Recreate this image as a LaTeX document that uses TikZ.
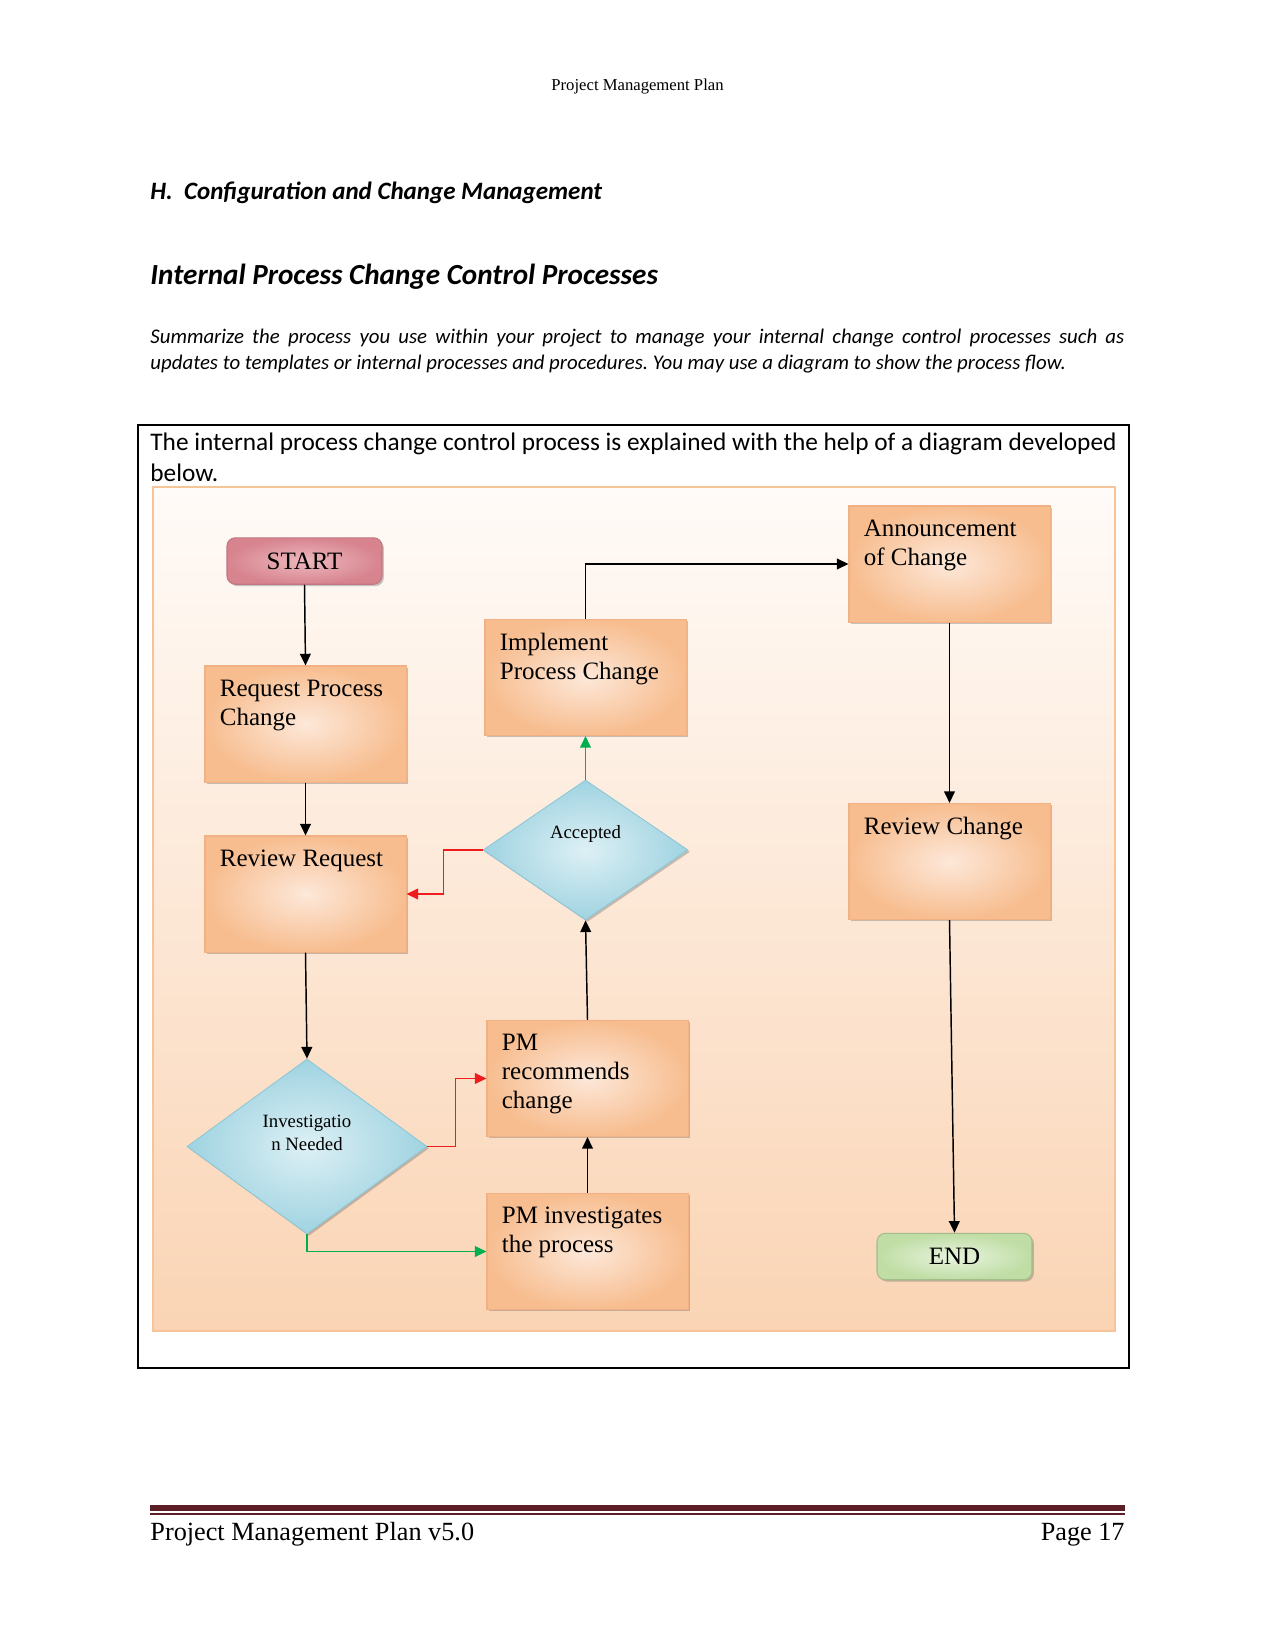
\documentclass[tikz,border=0pt]{standalone}
\usepackage{fontspec}
\setmainfont{Liberation Serif}
\newfontfamily\calib{Carlito}
\usetikzlibrary{arrows.meta,shapes.geometric,shadows,calc}
\definecolor{boxedge}{HTML}{F2B184}
\definecolor{boxdark}{HTML}{F7BD8F}
\definecolor{boxlight}{HTML}{FDE8D9}
\definecolor{frameedge}{HTML}{F7C49A}
\definecolor{frametop}{HTML}{FFFBF8}
\definecolor{framebot}{HTML}{FAD4B4}
\definecolor{diadark}{HTML}{9FD3E1}
\definecolor{dialight}{HTML}{DDF0F5}
\definecolor{diaedge}{HTML}{8CC6D6}
\definecolor{startdark}{HTML}{D7848F}
\definecolor{startlight}{HTML}{EDB8BE}
\definecolor{enddark}{HTML}{BFDDA4}
\definecolor{endlight}{HTML}{E8F3DE}
\definecolor{noarrowred}{HTML}{EE1C1C}
\definecolor{yesgreen}{HTML}{00B050}
\definecolor{maroon}{HTML}{5C1F27}
\tikzset{
  procbox/.style={rectangle, draw=boxedge, line width=0.5pt, inner color=boxlight, outer color=boxdark,
    minimum width=96.5pt, minimum height=55.7pt, inner sep=0pt,
    drop shadow={shadow xshift=0.9pt, shadow yshift=-0.9pt, opacity=0.3, fill=black!70}},
  termbox/.style={rectangle, rounded corners=4pt, line width=0.5pt, minimum width=74.4pt, minimum height=22.3pt,
    inner sep=0pt, font=\fontsize{12}{14}\selectfont,
    drop shadow={shadow xshift=0.9pt, shadow yshift=-0.9pt, opacity=0.3, fill=black!70}},
  decision/.style={diamond, draw=diaedge, line width=0.4pt, inner color=dialight, outer color=diadark, inner sep=0pt,
    drop shadow={shadow xshift=0.9pt, shadow yshift=-0.9pt, opacity=0.3, fill=black!70}},
  boxtext/.style={anchor=north west, inner sep=0pt, align=left, font=\fontsize{12}{13.9}\selectfont},
  dectext/.style={inner sep=0pt, align=center, font=\fontsize{9}{11}\selectfont},
  flow/.style={line width=0.7pt, -{Triangle[length=5.6pt,width=5.2pt]}},
  noflow/.style={flow, draw=noarrowred, -{Triangle[length=5.6pt,width=5.2pt,fill=noarrowred]}},
  yesflow/.style={flow, draw=yesgreen, -{Triangle[length=5.6pt,width=5.2pt,fill=yesgreen]}},
}
\frenchspacing
\begin{document}
\begin{tikzpicture}[x=0.48pt,y=-0.48pt]
\useasboundingbox (0,0) rectangle (1275,1650);
\fill[white] (0,0) rectangle (1275,1650);

% page header and texts
\node[font=\fontsize{8}{9.6}\selectfont] (hdr) at (637.5,87) {Project Management Plan};
\node[anchor=base west, inner sep=0pt, font=\calib\bfseries\itshape\fontsize{12}{14}\selectfont] (secH) at (150,200) {H.\ \ Configuration and Change Management};
\node[anchor=base west, inner sep=0pt, font=\calib\bfseries\itshape\fontsize{14}{17}\selectfont] (secI) at (150,285) {Internal Process Change Control Processes};
\node[anchor=north west, inner sep=0pt, text width=467.5pt, align=justify, font=\calib\itshape\fontsize{10}{12.5}\selectfont] (para) at (150,329)
  {Summarize the process you use within your project to manage your internal change control processes such as\linebreak updates to templates or internal processes and procedures. You may use a diagram to show the process flow.};

% outer box
\draw[line width=0.5pt] (138,425) coordinate (ob1) rectangle (1129,1368) coordinate (ob2);
\node[anchor=north west, inner sep=0pt, align=left, font=\calib\fontsize{12.15}{14.6}\selectfont] (intro) at (150,433)
  {The internal process change control process is explained with the help of a diagram developed\\below.};

% diagram frame
\draw[frameedge, line width=1pt, top color=frametop, bottom color=framebot] (153,487) rectangle (1115,1331);

% nodes
\node[termbox, draw=startdark!90!black, inner color=startlight, outer color=startdark] (start) at (304.5,561) {START};
\node[procbox] (req) at (305.5,724) {};
\node[procbox] (rrev) at (305.5,894) {};
\node[procbox] (impl) at (585.5,677.5) {};
\node[decision, minimum width=98.4pt, minimum height=67.2pt] (acc) at (585.5,850) {};
\node[decision, minimum width=115.2pt, minimum height=84pt] (inv) at (307,1146.5) {};
\node[procbox] (pmr) at (587.5,1078.5) {};
\node[procbox] (pmi) at (587.5,1251.5) {};
\node[procbox] (ann) at (949.5,564) {};
\node[procbox] (rchg) at (949.5,861.5) {};
\node[termbox, draw=enddark!85!black, inner color=endlight, outer color=enddark] (end) at (954.5,1256.5) {END};

% node texts
\node[boxtext] (reqT) at ($(req.north west)+(15,14)$) {Request Process\\Change};
\node[boxtext] (rrevT) at ($(rrev.north west)+(15,14)$) {Review Request};
\node[boxtext] (implT) at ($(impl.north west)+(15,14)$) {Implement\\Process Change};
\node[boxtext] (pmrT) at ($(pmr.north west)+(15,14)$) {PM\\recommends\\change};
\node[boxtext] (pmiT) at ($(pmi.north west)+(15,14)$) {PM investigates\\the process};
\node[boxtext] (annT) at ($(ann.north west)+(15,14)$) {Announcement\\of Change};
\node[boxtext] (rchgT) at ($(rchg.north west)+(15,14)$) {Review Change};
\node[dectext] (accT) at ($(acc.center)+(0,-16)$) {Accepted};
\node[dectext] (invT) at ($(inv.center)+(0,-14)$) {Investigatio\\n Needed};

% connectors
\draw[flow] (start.south) -- (req.north);
\draw[flow] (req.south) -- (rrev.north);
\draw[flow] (rrev.south) -- (inv.north);
\draw[noflow] (inv.east) -- ++(28,0) |- (pmr.west);
\draw[yesflow] (inv.south) |- (pmi.west);
\draw[flow] (pmi.north) -- (pmr.south);
\draw[flow] (pmr.north) -- (acc.south);
\draw[yesflow] (acc.north) -- (impl.south);
\draw[noflow] (acc.west) -- ++(-39,0) |- (rrev.east);
\draw[flow] (impl.north) |- (ann.west);
\draw[flow] (ann.south) -- (rchg.north);
\draw[flow] (rchg.south) -- (end.north);

% footer
\fill[maroon] (150,1505) rectangle (1125,1511);
\fill[maroon] (150,1513) rectangle (1125,1514.5);
\node[anchor=base west, inner sep=0pt, font=\fontsize{12.6}{15}\selectfont] (footL) at (150,1540) {Project Management Plan v5.0};
\node[anchor=base east, inner sep=0pt, font=\fontsize{12.6}{15}\selectfont] (footR) at (1125,1540) {Page 17};
\end{tikzpicture}
\end{document}
